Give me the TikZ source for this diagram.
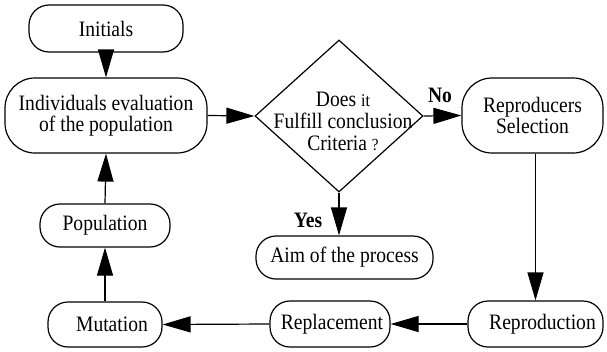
\documentclass[tikz,border=0pt]{standalone}
\usepackage{fontspec}
\setmainfont{Liberation Serif}[FakeStretch=0.89]
\usetikzlibrary{arrows.meta,shapes.geometric}
\begin{document}
\begin{tikzpicture}[x=1pt,y=-1pt,
  box/.style={draw, line width=1.2pt, inner sep=0pt, align=center,
    font=\fontsize{22}{21}\selectfont, rounded corners=20pt},
  bigbox/.style={box, rounded corners=30pt},
  dec/.style={draw, diamond, line width=1.2pt, inner sep=0pt,
    minimum width=168pt, minimum height=152pt},
  dectext/.style={align=center, inner sep=0pt, font=\fontsize{22}{22}\selectfont},
  lbl/.style={inner sep=0pt, font=\fontsize{22}{21}\selectfont\bfseries},
  flow/.style={-{Triangle[length=28pt,width=16pt]}, line width=1.2pt}
]
\useasboundingbox (0,0) rectangle (607,351);

\node[box, minimum width=154pt, minimum height=47pt] (init) at (106,28.5) {Initials};
\node[bigbox, minimum width=202pt, minimum height=75pt] (eval) at (106,115.5)
  {Individuals evaluation\\of the population};
\node[dec] (dia) at (339,116) {};
\node[dectext] (diatext) at (343,121)
  {Does {\fontsize{18}{18}\selectfont it}\\Fulfill conclusion\\Criteria {\fontsize{17}{17}\selectfont ?}};
\node[bigbox, minimum width=141pt, minimum height=75pt] (rsel) at (532.5,115.5)
  {Reproducers\\Selection};
\node[box, minimum width=177pt, minimum height=43pt] (aim) at (344.5,257.5) {Aim of the process};
\node[box, minimum width=130pt, minimum height=43pt] (pop) at (105,225.5) {Population};
\node[box, minimum width=114pt, minimum height=45pt] (mut) at (105,324.5) {\hspace*{14pt}Mutation};
\node[box, minimum width=120pt, minimum height=46pt] (repl) at (330,324) {\hspace*{4pt}Replacement};
\node[box, minimum width=135pt, minimum height=46pt] (repro) at (535.5,324) {\hspace*{14pt}Reproduction};

\node[lbl, anchor=base] (no) at (440,102) {No};
\node[lbl, anchor=base] (yes) at (308,227) {Yes};

\draw[flow] (init) -- (eval);
\draw[flow] (eval.east) -- (dia.west);
\draw[flow] (dia.east) -- (rsel.west);
\draw[flow] (dia.south) -- (dia.south |- aim.north);
\draw[flow] (repro.north |- rsel.south) -- (repro.north);
\draw[flow] (repro.west) -- (repl.east);
\draw[flow] (repl.west) -- (mut.east);
\draw[flow] (mut.north) -- (pop.south);
\draw[flow] (pop.north) -- (eval.south);
\end{tikzpicture}
\end{document}
